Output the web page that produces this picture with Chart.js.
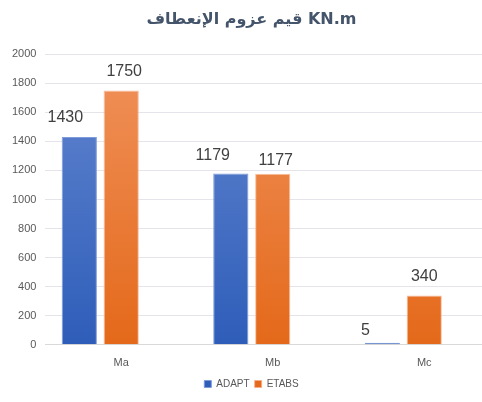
<!DOCTYPE html>
<html>
<head>
<meta charset="utf-8">
<script src="https://cdn.jsdelivr.net/npm/chart.js@4"></script>
<style>
  html, body { margin: 0; padding: 0; background: #fff; overflow: hidden; }
  #wrap { width: 512px; height: 402px; }
</style>
</head>
<body>
<div id="wrap"><canvas id="momentChart" width="512" height="402"></canvas></div>
<script>
// moment values
const categories = ['Ma', 'Mb', 'Mc'];
const adaptValues = [1430, 1179, 5];
const etabsValues = [1750, 1177, 340];
const spareValues = [null, null, null]; // empty third series in the original sheet

// small nudges of the value labels, as they were moved by hand
const labelNudge = [
  [[-14, 0], [-18, 1], [-17, 7]],
  [[3, 0], [3, 6], [0, 0]]
];

function barGradient(top, bottom) {
  return (ctx) => {
    const area = ctx.chart.chartArea;
    if (!area) return bottom;
    const g = ctx.chart.ctx.createLinearGradient(0, area.top, 0, area.bottom);
    g.addColorStop(0, top);
    g.addColorStop(1, bottom);
    return g;
  };
}

// draw value labels above the bars
const valueLabels = {
  id: 'valueLabels',
  afterDatasetsDraw(chart) {
    const ctx = chart.ctx;
    ctx.save();
    ctx.font = '16px "Liberation Sans", Arial, sans-serif';
    ctx.fillStyle = '#404040';
    ctx.textAlign = 'center';
    ctx.textBaseline = 'bottom';
    [0, 1].forEach(di => {
      const meta = chart.getDatasetMeta(di);
      meta.data.forEach((bar, i) => {
        const v = chart.data.datasets[di].data[i];
        const n = labelNudge[di][i];
        ctx.fillText(String(v), bar.x + n[0], bar.y - 11 + n[1]);
      });
    });
    ctx.restore();
  }
};

new Chart(document.getElementById('momentChart'), {
  type: 'bar',
  data: {
    labels: categories,
    datasets: [
      {
        label: 'ADAPT',
        data: adaptValues,
        backgroundColor: barGradient('#6487d0', '#2e5db9'),
        borderColor: '#7f9bd8',
        borderWidth: 1,
        minBarLength: 2
      },
      {
        label: 'ETABS',
        data: etabsValues,
        backgroundColor: barGradient('#f0925c', '#e4691a'),
        borderColor: 'rgba(245,175,135,0.8)',
        borderWidth: 1
      },
      {
        label: '',
        data: spareValues,
        backgroundColor: '#a5a5a5'
      }
    ]
  },
  options: {
    responsive: false,
    animation: false,
    categoryPercentage: 0.83,
    barPercentage: 0.84,
    layout: { padding: { left: 3, right: 12, top: 0, bottom: 3 } },
    plugins: {
      title: {
        display: true,
        text: 'قيم عزوم الإنعطاف KN.m',
        color: '#44546a',
        font: { family: '"DejaVu Sans", sans-serif', size: 16, weight: 'bold' },
        padding: { top: 10, bottom: 25 }
      },
      legend: {
        position: 'bottom',
        labels: {
          boxWidth: 7,
          boxHeight: 7,
          color: '#595959',
          font: { family: '"Liberation Sans", Arial, sans-serif', size: 10 },
          padding: 5,
          filter: item => item.text !== ''
        }
      },
      tooltip: { enabled: false }
    },
    scales: {
      x: {
        grid: { display: false },
        border: { color: '#d9d9d9' },
        ticks: {
          color: '#595959',
          font: { family: '"Liberation Sans", Arial, sans-serif', size: 11 },
          padding: 4
        }
      },
      y: {
        min: 0,
        max: 2000,
        ticks: {
          stepSize: 200,
          color: '#595959',
          font: { family: '"Liberation Sans", Arial, sans-serif', size: 11 },
          padding: 9,
          callback: v => String(v)
        },
        grid: { color: '#e4e4ea', drawTicks: false },
        border: { display: false }
      }
    }
  },
  plugins: [valueLabels]
});
</script>
</body>
</html>
